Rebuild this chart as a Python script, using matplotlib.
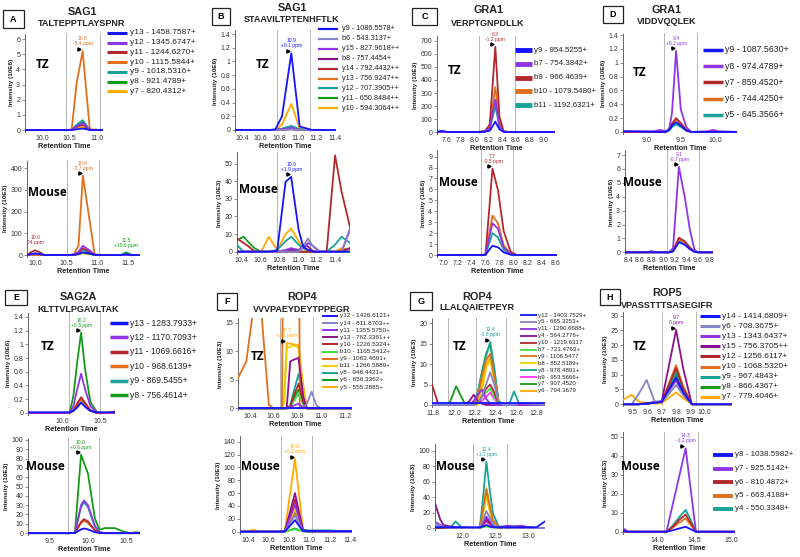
import matplotlib
matplotlib.use('Agg')
import matplotlib.pyplot as plt
from matplotlib.lines import Line2D
from matplotlib.patches import Rectangle
from matplotlib.transforms import offset_copy
import numpy as np

plt.rcParams['font.family'] = ['Liberation Sans', 'DejaVu Sans']
SANS = ['Liberation Sans', 'DejaVu Sans']

W, H = 800, 557
fig = plt.figure(figsize=(8, 5.57), dpi=100)

# ---------------- data ----------------
# A  SAG1 TALTEPPTLAYSPNR
a_ions = ['y13', 'y12', 'y11', 'y10', 'y9', 'y8', 'y7']
a_mz = ['1458.7587+', '1345.6747+', '1244.6270+', '1115.5844+', '1018.5316+', '921.4789+', '820.4312+']
a_tz_t = [9.69, 10.45, 10.54, 10.63, 10.74, 10.80, 10.87, 11.11]
a_tz = {
    'y13': [0, 0, 0, 0.05, 0.1, 0.06, 0, 0],
    'y12': [0, 0, 0.01, 0.25, 0.45, 0.25, 0.01, 0],
    'y11': [0, 0, 0.01, 0.2, 0.35, 0.2, 0.01, 0],
    'y10': [0, 0, 0.05, 3.1, 5.2, 2.8, 0.05, 0],
    'y9': [0, 0, 0.01, 0.35, 0.65, 0.35, 0.01, 0],
    'y8': [0, 0, 0.01, 0.3, 0.55, 0.3, 0.01, 0],
    'y7': [0, 0, 0, 0.1, 0.2, 0.1, 0, 0],
}
a_m_t = [9.87, 9.93, 10.0, 10.08, 10.15, 10.55, 10.63, 10.70, 10.77, 10.86, 10.96, 11.05, 11.38, 11.47, 11.56, 11.69]
a_m = {
    'y13': [0, 4, 8, 4, 0, 0, 1, 5, 12, 8, 1, 0, 0, 3, 0, 0],
    'y12': [0, 3, 6, 3, 0, 0, 2, 15, 42, 25, 2, 0, 0, 0, 0, 0],
    'y11': [0, 12, 22, 12, 0, 0, 1, 10, 30, 18, 1, 0, 0, 0, 0, 0],
    'y10': [0, 0, 0, 0, 0, 0, 5, 45, 365, 193, 2, 0, 0, 0, 0, 0],
    'y9': [0, 0, 0, 0, 0, 0, 1, 8, 25, 12, 0, 0, 0, 4, 0, 0],
    'y8': [0, 0, 0, 0, 0, 0, 0, 4, 12, 6, 0, 0, 0, 12, 0, 0],
    'y7': [0, 0, 0, 0, 0, 0, 0, 3, 8, 4, 0, 0, 0, 2, 0, 0],
}

# B  SAG1 STAAVILTPTENHFTLK
b_ions = ['y9', 'b6', 'y15', 'b8', 'y14', 'y13', 'y12', 'y11', 'y10']
b_mz = ['1086.5578+', '543.3137+', '827.9618++', '757.4454+', '792.4432++', '756.9247++', '707.3905++', '650.8484++', '594.3064++']
b_tz_t = [10.325, 10.7, 10.76, 10.83, 10.93, 11.02, 11.1, 11.15, 11.41]
b_tz = {
    'y9': [0, 0, 0.01, 0.2, 1.12, 0.05, 0.02, 0, 0],
    'b6': [0, 0, 0, 0, 0.01, 0, 0, 0, 0],
    'y15': [0, 0, 0, 0.01, 0.03, 0, 0, 0, 0],
    'b8': [0, 0, 0, 0, 0.01, 0, 0, 0, 0],
    'y14': [0, 0, 0, 0.005, 0.015, 0, 0, 0, 0],
    'y13': [0, 0, 0, 0.005, 0.02, 0, 0, 0, 0],
    'y12': [0, 0, 0, 0.02, 0.06, 0.01, 0, 0, 0],
    'y11': [0, 0, 0, 0.01, 0.045, 0.005, 0, 0, 0],
    'y10': [0, 0, 0, 0.08, 0.38, 0.02, 0, 0, 0],
}
b_m_t = [10.35, 10.42, 10.48, 10.54, 10.61, 10.69, 10.78, 10.87, 10.93, 11.01, 11.06, 11.11, 11.17, 11.24, 11.31, 11.40, 11.47, 11.56]
b_m = {
    'y9': [0, 0, 0, 0, 0, 0, 0.5, 39.6, 42.5, 12.3, 2.8, 1, 0, 0, 0, 0, 0, 0],
    'b6': [0, 0, 0, 0, 0, 0, 0, 0, 0, 0, 3, 7.5, 2.5, 0, 0, 0, 0, 12],
    'y15': [0, 0, 0, 0, 0, 0, 0, 1, 2, 1, 2, 5, 3, 0, 0, 0, 0, 13],
    'b8': [0, 0, 0, 0, 0, 0, 0, 0.5, 1, 0.5, 3.8, 3, 0, 0, 0, 0, 0, 2],
    'y14': [7.5, 5, 2.8, 0, 0, 0, 0, 0, 0, 0, 0, 0, 0, 0, 0, 54.7, 34, 14],
    'y13': [0, 0, 0, 0, 0, 0, 0, 0, 0.5, 0, 0, 0, 0, 0, 0, 0, 1, 2],
    'y12': [3.8, 0, 0, 0, 0, 0, 1, 6, 8.5, 4, 2, 1, 0, 0, 0, 4, 8.5, 5],
    'y11': [6.6, 8.5, 5, 1.9, 0, 0, 0, 0, 0, 0, 0, 0, 0, 0, 0, 0, 0, 0],
    'y10': [0, 0, 0, 0, 0, 8.5, 1, 10, 13.2, 6, 2, 0.5, 0, 0, 0, 0, 2, 1],
}

# C  GRA1 VERPTGNPDLLK
c_ions = ['y9', 'b7', 'b9', 'b10', 'b11']
c_mz = ['954.5255+', '754.3842+', '966.4639+', '1079.5480+', '1192.6321+']
c_tz_t = [7.455, 7.5, 7.55, 7.6, 8.05, 8.15, 8.22, 8.30, 8.36, 8.42, 8.5, 9.165]
c_tz = {
    'y9': [0, 8, 8, 0, 0, 3, 10, 80, 20, 2, 0, 0],
    'b7': [0, 0, 0, 0, 0, 5, 30, 250, 50, 3, 0, 0],
    'b9': [0, 0, 0, 0, 0, 5, 60, 655, 120, 5, 0, 0],
    'b10': [0, 0, 0, 0, 0, 8, 40, 345, 70, 5, 0, 0],
    'b11': [0, 0, 0, 0, 0, 4, 25, 200, 40, 3, 0, 0],
}
c_m_t = [6.905, 7.5, 7.6, 7.65, 7.7, 7.78, 7.86, 7.96, 8.05, 8.625]
c_m = {
    'y9': [0, 0, 0.01, 0.45, 0.85, 0.7, 0.25, 0.03, 0, 0],
    'b7': [0, 0, 0.02, 1.5, 2.9, 2.4, 0.7, 0.1, 0, 0],
    'b9': [0, 0, 0.05, 3.9, 7.9, 5.9, 2.2, 0.3, 0, 0],
    'b10': [0, 0, 0.03, 1.8, 3.6, 2.9, 0.9, 0.1, 0, 0],
    'b11': [0, 0, 0.02, 1.0, 2.0, 1.6, 0.5, 0.05, 0, 0],
}

# D  GRA1 VIDDVQQLEK
d_ions = ['y9', 'y8', 'y7', 'y6', 'y5']
d_mz = ['1087.5630+', '974.4789+', '859.4520+', '744.4250+', '645.3566+']
d_tz_t = [8.653, 9.1, 9.2, 9.28, 9.33, 9.37, 9.43, 9.50, 9.58, 9.65, 9.9, 9.97, 10.05, 10.322]
d_tz = {
    'y9': [0.01, 0, 0, 0, 0.03, 0.09, 0.14, 0.09, 0.02, 0, 0, 0, 0, 0],
    'y8': [0.01, 0.01, 0.03, 0.01, 0.05, 0.27, 1.17, 0.32, 0.07, 0, 0.01, 0.03, 0.01, 0],
    'y7': [0, 0, 0, 0, 0.04, 0.12, 0.2, 0.13, 0.03, 0, 0, 0, 0, 0],
    'y6': [0, 0, 0, 0, 0.03, 0.11, 0.18, 0.11, 0.02, 0, 0, 0, 0, 0],
    'y5': [0, 0, 0, 0, 0.02, 0.07, 0.11, 0.07, 0.02, 0, 0, 0, 0, 0],
}
d_m_t = [8.343, 8.75, 8.8, 8.85, 9.1, 9.17, 9.27, 9.37, 9.46, 9.54, 9.6, 9.857]
d_m = {
    'y9': [0, 0, 0, 0, 0, 0.06, 0.72, 0.55, 0.22, 0.03, 0, 0],
    'y8': [0, 0.02, 0.1, 0.02, 0, 0.3, 6.15, 4.0, 1.6, 0.17, 0, 0],
    'y7': [0, 0, 0, 0, 0, 0.1, 1.05, 0.8, 0.35, 0.05, 0, 0],
    'y6': [0, 0, 0, 0, 0, 0.08, 0.95, 0.7, 0.3, 0.04, 0, 0],
    'y5': [0, 0, 0, 0, 0, 0.07, 0.8, 0.6, 0.25, 0.03, 0, 0],
}

# E  SAG2A KLTTVLPGAVLTAK
e_ions = ['y13', 'y12', 'y11', 'y10', 'y9', 'y8']
e_mz = ['1283.7933+', '1170.7093+', '1069.6616+', '968.6139+', '869.5455+', '756.4614+']
e_tz_t = [9.56, 10.1, 10.15, 10.2, 10.25, 10.3, 10.37, 10.45, 10.55, 10.69]
e_tz = {
    'y13': [0.01, 0.01, 0.03, 0.08, 0.15, 0.09, 0.03, 0.01, 0.01, 0.01],
    'y12': [0, 0, 0.1, 0.35, 0.57, 0.35, 0.1, 0.01, 0, 0],
    'y11': [0, 0, 0.04, 0.14, 0.23, 0.15, 0.04, 0, 0, 0.02],
    'y10': [0, 0, 0.03, 0.12, 0.2, 0.13, 0.04, 0, 0, 0],
    'y9': [0, 0, 0.03, 0.1, 0.16, 0.1, 0.03, 0, 0, 0],
    'y8': [0, 0, 0.25, 0.75, 1.17, 0.65, 0.16, 0.02, 0, 0],
}
e_m_t = [9.217, 9.75, 9.83, 9.91, 9.95, 10.0, 10.09, 10.15, 10.22, 10.35, 10.46, 10.55, 10.63, 10.68]
e_m = {
    'y13': [0, 0, 0.1, 4, 5, 4, 1, 0.2, 0, 0, 0, 0, 0, 0],
    'y12': [0, 0, 0.3, 30, 35, 30, 8, 1, 0, 0, 0, 0, 0, 0],
    'y11': [0, 0, 0.2, 12, 15, 12.5, 3, 0.5, 0, 0, 0, 0, 0, 0],
    'y10': [0, 0, 0.2, 11, 13, 11, 3, 0.5, 0, 0, 0, 0, 0, 0],
    'y9': [0, 0, 0.3, 28, 33, 28, 7, 1, 0, 0, 0, 0, 0, 0],
    'y8': [0, 0, 0.5, 84, 75, 64, 16, 3.6, 5.4, 5.4, 1.8, 0, 1, 0.5],
}

# F  ROP4 VVVPAEYDEYTPPEGR
f_ions = ['y12', 'y14', 'y11', 'y13', 'y10', 'b10', 'y9', 'b11', 'y8', 'y6', 'y5']
f_mz = ['1426.6121+', '811.8703++', '1355.5750+', '762.3361++', '1226.5324+', '1165.5412+',
        '1063.4691+', '1266.5889+', '948.4421+', '656.3362+', '555.2885+']
f_tz_t = [10.30, 10.37, 10.42, 10.46, 10.50, 10.56, 10.60, 10.67, 10.69, 10.71,
          10.74, 10.77, 10.81, 10.82, 10.85, 10.88, 10.92, 10.96, 11.0, 11.26]
f_tz = {
    'y12': [0, 0, 0, 0, 0, 0, 0, 0, 0, 0, 0, 0, 0, 0, 0, 0, 0, 0, 0, 0],
    'y14': [0, 0, 0, 0, 0, 0, 0, 0, 0, 0, 0, 0, 0, 0, 0, 0.8, 2.9, 0.5, 0, 0],
    'y11': [0, 0, 0, 0, 0, 0, 0, 0, 0, 0, 0.2, 0.5, 0.8, 0.6, 0.2, 0, 0, 0, 0, 0],
    'y13': [0, 0, 0, 0, 0, 0, 0, 0, 0, 0, 8.2, 8.5, 8.8, 7, 2, 0, 0, 0, 0, 0],
    'y10': [0, 0, 0, 0, 0, 0, 0, 0, 0, 0, 0.3, 2.2, 4.3, 3.5, 1, 0, 0, 0, 0, 0],
    'b10': [0, 0, 0, 0, 0, 0, 0, 0, 0, 0, 0.2, 1.3, 2.5, 2, 0.6, 0, 0, 0, 0, 0],
    'y9': [5.3, 8.2, 16, 25, 16, 0.6, 0, 0, 60, 60, 60, 60, 60, 0, 0, 0, 0, 0, 0, 0],
    'b11': [0, 0, 0, 0, 0, 0, 0, 0, 1, 10.5, 10.8, 11.0, 10.6, 8, 3, 0, 0, 0, 0, 0],
    'y8': [0, 0, 0, 0, 0, 0, 0, 0, 0, 0, 0.5, 3, 6, 5, 1.5, 0, 0, 0, 0, 0],
    'y6': [0, 0, 0, 0, 0, 0, 0, 0, 0, 0, 0.2, 1.7, 3.3, 2.7, 0.8, 0, 0, 0, 0, 0],
    'y5': [0, 0, 0, 0, 0, 0, 0, 0, 2, 11.4, 11.3, 11.2, 11.0, 9, 4, 0, 0, 0, 0, 0],
}
f_m_t = [10.32, 10.4, 10.45, 10.5, 10.7, 10.76, 10.81, 10.86, 10.90, 10.94, 11.0, 11.1, 11.2, 11.3, 11.42]
f_m = {
    'y12': [0, 0, 0, 0, 0, 0.5, 9, 18, 9, 1, 1, 1, 1, 1, 1],
    'y14': [0, 0, 0, 0, 0, 0.5, 13, 25, 13, 1, 0.5, 0, 0, 0, 0],
    'y11': [0, 0, 0, 0, 0, 0.5, 21, 42, 21, 1, 0.5, 0, 0, 0, 0],
    'y13': [0, 0, 0, 0, 0, 0.5, 30, 60, 30, 2, 0.5, 0, 0, 0, 0],
    'y10': [0, 0, 0, 0, 0, 0.5, 25, 50, 25, 2, 0.5, 0, 0, 0, 0],
    'b10': [0, 0, 0, 0, 0, 0, 2, 4, 2, 0.5, 0, 0, 0, 0, 0],
    'y9': [0, 0, 0, 0, 0, 0.5, 14, 28, 14, 1, 0.5, 0, 0, 0, 0],
    'b11': [0, 0, 1, 0, 0, 0.5, 18, 35, 18, 1, 0.5, 0, 0, 0, 0],
    'y8': [0, 0, 0, 0, 0, 0.5, 15, 30, 16, 3, 2, 2, 2, 1, 1],
    'y6': [0, 0, 0, 0, 0, 0, 2.5, 5, 2.5, 0.5, 0, 0, 0, 0, 0],
    'y5': [0, 1, 3, 1, 0, 1, 57, 113, 57, 2, 0, 0, 0, 0, 0],
}

# G  ROP4 LLALQAIETPEYR
g_ions = ['y12', 'y5', 'y11', 'y4', 'y10', 'b7', 'y9', 'b8', 'y8', 'b9', 'y7', 'y6']
g_mz = ['1403.7529+', '665.3253+', '1290.6688+', '564.2776+', '1219.6317', '723.4763+',
        '1106.5477', '852.5189+', '978.4891+', '953.5666+', '907.4520', '794.3679']
g_tz_t = [11.787, 11.85, 11.95, 12.02, 12.11, 12.15, 12.19, 12.23, 12.27, 12.31,
          12.35, 12.39, 12.43, 12.48, 12.53, 12.58, 12.63, 12.88]
g_tz = {
    'y12': [0.4, 0.4, 0.4, 0.4, 0.4, 0.4, 0.4, 0.4, 0.4, 0.4, 0.4, 0.4, 0.4, 0.4, 0.4, 0.4, 0.4, 0.4],
    'y5': [0, 0, 0, 0, 0, 0, 0, 0.5, 2, 5, 8, 5, 0.5, 0, 0, 0, 0.5, 0],
    'y11': [0, 0, 0, 0, 0, 0, 1, 2.5, 3.8, 1.5, 0.3, 0, 0, 0, 0, 0, 0, 0],
    'y4': [0, 0, 0, 0, 0, 1, 2.5, 1, 0.3, 0, 0, 0, 0, 0, 0, 0, 0, 0],
    'y10': [5, 0, 0, 0, 0, 0, 0, 0.5, 2, 4, 5, 3, 0.3, 0, 0, 0, 0, 0],
    'b7': [0, 0, 0, 0, 0, 0, 0, 0.5, 2, 3, 4, 2, 0.2, 0, 0, 0, 0, 0],
    'y9': [0, 0, 0, 0, 0, 0, 0, 2, 7, 11, 12.5, 7, 0.8, 0, 0, 0, 0, 0],
    'b8': [0, 0, 0, 0, 0, 0, 0, 0, 3, 9, 11, 6, 0.5, 0, 0, 0, 0, 0],
    'y8': [0, 0, 0, 0, 0, 0, 0.5, 3, 8, 12, 15.4, 9, 1, 0, 0, 3.3, 0.3, 0],
    'b9': [0, 0, 0, 0, 0, 0, 0, 0.5, 1, 2, 3, 1.5, 0.2, 0, 0, 0, 0, 0],
    'y7': [0, 0, 0, 4.6, 0, 0, 0.5, 3, 8, 12.5, 15, 8, 1, 0, 0, 0, 0, 0],
    'y6': [0, 0, 0, 0, 0, 0, 0, 1, 5, 10, 11.5, 6, 0.5, 0, 0, 0, 0, 0],
}
g_m_t = [11.59, 11.67, 11.72, 11.82, 11.9, 12.0, 12.17, 12.27, 12.32, 12.37,
         12.42, 12.47, 12.55, 12.62, 12.7, 12.8, 12.9, 13.0, 13.13, 13.26]
g_m = {
    'y12': [1, 1, 1, 1, 1, 1, 1, 1, 2, 4, 2, 1, 1, 1, 1, 1, 1, 1, 1, 8.6],
    'y5': [5, 3, 1, 0, 0, 0, 0, 0.2, 10, 22, 14, 5, 1, 0, 0, 0, 0, 0, 0, 0],
    'y11': [8, 4, 2, 1, 1, 0.5, 0, 0.2, 7, 15, 9, 3, 1, 2, 3, 2, 3, 1, 0, 0],
    'y4': [32, 10.7, 4, 2, 1, 0.5, 0, 0.1, 6, 12, 7, 3, 1, 1, 2, 1, 2, 1, 0, 0],
    'y10': [0, 0, 0, 0, 0, 0, 0, 0.1, 5, 10, 6, 2, 0.5, 0, 0, 0, 0, 0, 0, 0],
    'b7': [0, 0, 0, 0, 0, 0, 0, 0, 1, 2, 1, 0.5, 0, 0, 0, 0, 0, 0, 0, 0],
    'y9': [0, 0, 0, 0, 0, 0, 0, 0.5, 24, 50, 29, 10, 2, 0, 0, 0, 0, 0, 0, 0],
    'b8': [0, 0, 0, 0, 0, 0, 0, 0.3, 18, 40, 22, 7, 1, 0, 0, 0, 0, 0, 0, 0],
    'y8': [2, 2, 0, 0, 8.6, 0.5, 0, 0.5, 40, 86, 50, 19, 3, 1, 1, 2, 1, 0, 0, 0],
    'b9': [0, 0, 0, 0, 0, 0, 0, 0, 4, 8, 5, 2, 0.3, 0, 0, 0, 0, 0, 0, 0],
    'y7': [0, 0, 0, 0, 0, 0, 0, 0.3, 20, 45, 25, 8, 1, 0, 0, 0, 0, 0, 0, 0],
    'y6': [0, 0, 0, 0, 0, 0, 0, 0.5, 25, 52, 30, 10, 2, 0, 0, 0, 0, 0, 0, 0],
}

# H  ROP5 VPASSTTTSASEGIFR
h_ions = ['y14', 'y6', 'y13', 'y15', 'y12', 'y10', 'y9', 'y8', 'y7']
h_mz = ['1414.6809+', '708.3675+', '1343.6437+', '756.3705++', '1256.6117+', '1068.5320+',
        '967.4843+', '866.4367+', '779.4046+']
h_tz_t = [9.43, 9.49, 9.54, 9.595, 9.65, 9.7, 9.75, 9.8, 9.85, 9.91, 10.0, 10.19]
h_tz = {
    'y14': [0, 0, 0, 0.2, 0.5, 0.8, 5, 9, 4, 0, 0, 0],
    'y6': [0, 0, 3.5, 8.2, 1, 0.5, 3.5, 6.5, 3, 0, 0, 0],
    'y13': [0, 0, 0, 0.2, 0.6, 1, 4.5, 8, 3.5, 0, 0, 0],
    'y15': [0, 0, 0, 0.3, 0.8, 1, 13, 25.1, 12, 0, 0, 0],
    'y12': [0, 0, 0, 0.2, 0.5, 0.8, 6.5, 12.2, 5.5, 0, 0, 0],
    'y10': [0, 0, 0, 0.2, 0.5, 0.8, 7, 13.2, 6, 0, 0, 0],
    'y9': [0, 0, 0, 0.2, 0.5, 0.8, 6, 11, 5, 0, 0, 0],
    'y8': [0, 0, 0, 0.2, 0.5, 0.8, 5.5, 10, 4.5, 0, 0, 0],
    'y7': [1.5, 3.2, 0.9, 0.3, 0.2, 0.3, 2.2, 4, 2, 0, 0, 0],
}
hm_ions = ['y8', 'y7', 'y6', 'y5', 'y4']
hm_mz = ['1038.5982+', '925.5142+', '810.4872+', '663.4188+', '550.3348+']
h_m_t = [13.53, 13.6, 14.12, 14.2, 14.3, 14.38, 14.45, 14.52, 14.6, 15.05]
h_m = {
    'y8': [0.5, 0, 0, 0.7, 1.8, 2.6, 1.3, 0, 0, 0],
    'y7': [1.8, 0, 0, 13.5, 30.4, 43.9, 22, 0, 0, 0],
    'y6': [0, 0, 0, 2.5, 6.5, 9, 4.5, 0, 0, 0],
    'y5': [0, 0, 0, 2, 5, 7, 3.5, 0, 0, 0],
    'y4': [0, 0, 0, 3, 8, 11.5, 6, 0, 0, 0],
}

# ---------------- styles ----------------
C = {'blue': '#1414ff', 'violet': '#9035e6', 'brown': '#b3282c', 'choc': '#e0701e',
     'cyan': '#17a398', 'green': '#169a1a', 'orange': '#ffab00', 'slate': '#8585c8',
     'dmag': '#8c108c', 'lime': '#44dd44', 'gold': '#eed000', 'mag': '#ff33ff'}
a_col = [C[k] for k in ['blue', 'violet', 'brown', 'choc', 'cyan', 'green', 'orange']]
b_col = [C[k] for k in ['blue', 'slate', 'violet', 'dmag', 'brown', 'choc', 'cyan', 'green', 'orange']]
c_col = [C[k] for k in ['blue', 'violet', 'brown', 'choc', 'cyan']]
d_col = c_col
e_col = [C[k] for k in ['blue', 'violet', 'brown', 'choc', 'cyan', 'green']]
f_col = [C[k] for k in ['blue', 'slate', 'violet', 'dmag', 'brown', 'lime', 'choc', 'gold', 'cyan', 'green', 'orange']]
g_col = [C[k] for k in ['blue', 'slate', 'violet', 'dmag', 'brown', 'lime', 'choc', 'gold', 'cyan', 'mag', 'green', 'orange']]
h_col = [C[k] for k in ['blue', 'slate', 'violet', 'dmag', 'brown', 'choc', 'cyan', 'green', 'orange']]
hm_col = c_col


def fx(x):
    return x / W


def fy(y):
    return 1 - y / H


def chrom(t, ser, ions, cols, rect, xlim, ylim, xt, yt, unit, bounds, tag, tagxy, anns):
    l, tp, r, b = rect
    ax = fig.add_axes([fx(l), fy(b), (r - l) / W, (b - tp) / H])
    for bd in bounds:
        ax.axvline(bd, color='#a9a9a9', lw=0.6, zorder=1)
    n = len(ions)
    for k in range(n - 1, -1, -1):
        assert len(ser[ions[k]]) == len(t)
        ax.plot(t, ser[ions[k]], color=cols[k], lw=1.3, zorder=2 + n - k)
    ax.set_xlim(xlim)
    ax.set_ylim(ylim)
    ax.set_xticks(xt)
    ax.set_xticklabels(['%.1f' % v for v in xt])
    ax.set_yticks(yt)
    ax.set_yticklabels(['%g' % v for v in yt])
    for s in ['top', 'right', 'bottom']:
        ax.spines[s].set_visible(False)
    ax.spines['left'].set_linestyle((0, (1, 1)))
    ax.spines['left'].set_color('#666666')
    ax.spines['left'].set_linewidth(0.7)
    ax.tick_params(axis='x', length=0, pad=2, labelsize=5, labelcolor='#333333')
    ax.tick_params(axis='y', length=2, width=0.5, pad=1.5, labelsize=5, labelcolor='#333333', color='#666666')
    ax.set_xlabel('Retention Time', fontsize=5.2, fontweight='bold', labelpad=1, color='#222222')
    ax.set_ylabel('Intensity (%s)' % unit, fontsize=4.6, fontweight='bold', labelpad=1.5, color='#222222')
    ax.patch.set_alpha(0)
    fig.text(fx(tagxy[0]), fy(tagxy[1]), tag, fontsize=8.5, fontweight='bold',
             ha='center', va='center', family=['Open Sans', 'DejaVu Sans'])
    tt = np.array(t)
    for ion, lo, hi, txt, arrow in anns:
        vv = np.array(ser[ion], dtype=float)
        i = int(np.argmax(np.where((tt >= lo) & (tt <= hi), vv, -1e9)))
        c = cols[ions.index(ion)]
        ax.annotate(txt, (tt[i], vv[i]), xytext=(0, 3.5), textcoords='offset points',
                    ha='center', va='bottom', fontsize=3.6, color=c, linespacing=1.0,
                    annotation_clip=False, zorder=30)
        if arrow:
            tr = offset_copy(ax.transData, fig=fig, x=-2.3, y=1.8, units='points')
            ax.plot([tt[i]], [vv[i]], marker='>', ms=2.3, color='k', transform=tr,
                    clip_on=False, zorder=31)
    return ax


def legend(y0, step, x0, x1, xt, ions, mz, cols, fs, lw):
    for k, (ion, m, c) in enumerate(zip(ions, mz, cols)):
        y = y0 + k * step
        fig.add_artist(Line2D([fx(x0), fx(x1)], [fy(y), fy(y)], color=c, lw=lw,
                              solid_capstyle='butt', transform=fig.transFigure))
        fig.text(fx(xt), fy(y), '%s - %s' % (ion, m), fontsize=fs, va='center', ha='left',
                 color='#222222', family=SANS)


def header(box, letter, cx, y1, y2, name, pep):
    l, t, r, b = box
    fig.add_artist(Rectangle((fx(l), fy(b)), (r - l) / W, (b - t) / H, fill=False,
                             ec='#222222', lw=0.9, transform=fig.transFigure))
    fig.text(fx((l + r) / 2), fy((t + b) / 2), letter, fontsize=6.5, fontweight='bold',
             ha='center', va='center')
    fig.text(fx(cx), fy(y1), name, fontsize=7.8, fontweight='bold', ha='center', va='center',
             color='#222222')
    fig.text(fx(cx), fy(y2), pep, fontsize=6.5, fontweight='bold', ha='center', va='center',
             color='#222222')


# ---------------- A ----------------
header((3, 10, 24, 28), 'A', 82, 12, 24, 'SAG1', 'TALTEPPTLAYSPNR')
chrom(a_tz_t, a_tz, a_ions, a_col, (25, 33, 103, 132), (9.69, 11.11), (-0.13, 6.4),
      [10.0, 10.5, 11.0], [0, 1, 2, 3, 4, 5, 6], '10E6', [10.44, 11.05], 'TZ', (43, 65),
      [('y10', 0, 99, '10.8\n-5.4 ppm', True)])
chrom(a_m_t, a_m, a_ions, a_col, (27, 160, 140, 257), (9.87, 11.69), (-9.2, 437),
      [10.0, 10.5, 11.0, 11.5], [0, 100, 200, 300, 400], '10E3', [10.52, 11.03], 'Mouse', (47, 192),
      [('y10', 10.5, 11.0, '10.8\n-3.7 ppm', True), ('y11', 9.9, 10.1, '10.0\n24 ppm', False),
       ('y8', 11.3, 11.6, '11.5\n+10.6 ppm', False)])
legend(33, 9.7, 107, 127, 130, a_ions, a_mz, a_col, 6, 2.2)

# ---------------- B ----------------
header((212, 8, 230, 25), 'B', 292, 8, 20, 'SAG1', 'STAAVILTPTENHFTLK')
chrom(b_tz_t, b_tz, b_ions, b_col, (235, 30, 336, 132), (10.325, 11.41), (-0.03, 1.46),
      [10.4, 10.6, 10.8, 11.0, 11.2, 11.4], [0, 0.2, 0.4, 0.6, 0.8, 1.0, 1.2, 1.4], '10E6',
      [10.78, 11.13], 'TZ', (263, 65), [('y9', 0, 99, '10.9\n+0.1 ppm', True)])
chrom(b_m_t, b_m, b_ions, b_col, (237, 152, 350, 254), (10.35, 11.56), (-1.3, 56.6),
      [10.4, 10.6, 10.8, 11.0, 11.2, 11.4], [0, 10, 20, 30, 40, 50], '10E3',
      [10.78, 11.13], 'Mouse', (258, 190), [('y9', 10.7, 11.1, '10.9\n+1.9 ppm', True)])
legend(29, 9.9, 318, 338, 342, b_ions, b_mz, b_col, 5.2, 1.6)

# ---------------- C ----------------
header((412, 8, 437, 25), 'C', 488, 10, 23, 'GRA1', 'VERPTGNPDLLK')
chrom(c_tz_t, c_tz, c_ions, c_col, (437, 36, 555, 134), (7.455, 9.165), (-15, 738),
      [7.6, 7.8, 8.0, 8.2, 8.4, 8.6, 8.8, 9.0], [0, 100, 200, 300, 400, 500, 600, 700], '10E3',
      [8.06, 8.58], 'TZ', (455, 70), [('b9', 0, 99, '8.3\n-1.2 ppm', True)])
chrom(c_m_t, c_m, c_ions, c_col, (437, 150, 557, 257), (6.905, 8.625), (-0.18, 9.6),
      [7.0, 7.2, 7.4, 7.6, 7.8, 8.0, 8.2, 8.4, 8.6], [0, 1, 2, 3, 4, 5, 6, 7, 8, 9], '10E6',
      [7.53, 8.0], 'Mouse', (458, 183), [('b9', 0, 99, '7.7\n-0.5 ppm', True)])
legend(50, 13.8, 515, 532, 534, c_ions, c_mz, c_col, 5.7, 3.5)

# ---------------- D ----------------
header((603, 6, 623, 23), 'D', 667, 10, 22, 'GRA1', 'VIDDVQQLEK')
chrom(d_tz_t, d_tz, d_ions, d_col, (623, 33, 737, 134), (8.653, 10.322), (-0.03, 1.43),
      [9.0, 9.5, 10.0], [0, 0.2, 0.4, 0.6, 0.8, 1.0, 1.2, 1.4], '10E6',
      [9.26, 9.73], 'TZ', (640, 72), [('y8', 9.3, 9.6, '9.4\n+0.2 ppm', True)])
chrom(d_m_t, d_m, d_ions, d_col, (625, 150, 713, 254), (8.343, 9.857), (-0.12, 7.36),
      [8.4, 8.6, 8.8, 9.0, 9.2, 9.4, 9.6, 9.8], [0, 1, 2, 3, 4, 5, 6, 7], '10E6',
      [9.06, 9.62], 'Mouse', (642, 182), [('y8', 0, 99, '9.1\n-0.7 ppm', True)])
legend(50, 16.2, 703, 723, 725, d_ions, d_mz, d_col, 6.3, 2.5)

# ---------------- E ----------------
header((5, 290, 27, 305), 'E', 78, 297, 310, 'SAG2A', 'KLTTVLPGAVLTAK')
chrom(e_tz_t, e_tz, e_ions, e_col, (28, 312, 115, 415), (9.56, 10.69), (-0.03, 1.47),
      [10.0, 10.5], [0, 0.2, 0.4, 0.6, 0.8, 1.0, 1.2, 1.4], '10E6',
      [10.09, 10.5], 'TZ', (48, 347), [('y8', 0, 99, '10.2\n+0.3 ppm', True)])
chrom(e_m_t, e_m, e_ions, e_col, (28, 438, 140, 535), (9.217, 10.68), (-2, 102),
      [9.5, 10.0, 10.5], [0, 10, 20, 30, 40, 50, 60, 70, 80, 90, 100], '10E3',
      [9.74, 10.15], 'Mouse', (45, 467), [('y8', 0, 99, '10.0\n+0.6 ppm', True)])
legend(323, 14.4, 110, 128, 130, e_ions, e_mz, e_col, 6.2, 2.5)

# ---------------- F ----------------
header((217, 293, 237, 310), 'F', 302, 297, 309, 'ROP4', 'VVVPAEYDEYTPPEGR')
chrom(f_tz_t, f_tz, f_ions, f_col, (238, 318, 352, 410), (10.30, 11.26), (-0.3, 15.8),
      [10.4, 10.6, 10.8, 11.0, 11.2], [0, 5, 10, 15], '10E3',
      [10.65, 10.93], 'TZ', (258, 357), [('y5', 0, 99, '10.7\n+2.2 ppm', True)])
chrom(f_m_t, f_m, f_ions, f_col, (240, 436, 352, 534), (10.32, 11.42), (-3.6, 148.8),
      [10.4, 10.6, 10.8, 11.0, 11.2, 11.4], [0, 20, 40, 60, 80, 100, 120, 140], '10E3',
      [10.72, 11.03], 'Mouse', (260, 467), [('y5', 10.6, 11.0, '10.9\n+0.1 ppm', True)])
legend(316, 7.1, 322, 338, 340, f_ions, f_mz, f_col, 4.6, 1.4)

# ---------------- G ----------------
header((410, 292, 432, 310), 'G', 477, 297, 308, 'ROP4', 'LLALQAIETPEYR')
chrom(g_tz_t, g_tz, g_ions, g_col, (432, 318, 545, 407), (11.787, 12.88), (-0.5, 21.3),
      [11.8, 12.0, 12.2, 12.4, 12.6, 12.8], [0, 5, 10, 15, 20], '10E3',
      [11.94, 12.21, 12.50], 'TZ', (460, 347), [('y8', 12.2, 12.5, '12.4\n-3.8 ppm', True)])
chrom(g_m_t, g_m, g_ions, g_col, (435, 444, 545, 530), (11.59, 13.26), (-2.6, 109),
      [12.0, 12.5, 13.0], [0, 20, 40, 60, 80, 100], '10E3',
      [12.17, 12.68], 'Mouse', (455, 467), [('y8', 12.2, 12.5, '12.4\n+1.2 ppm', True)])
legend(315, 6.9, 520, 537, 538, g_ions, g_mz, g_col, 4.4, 1.3)

# ---------------- H ----------------
header((600, 289, 620, 305), 'H', 667, 293, 305, 'ROP5', 'VPASSTTTSASEGIFR')
chrom(h_tz_t, h_tz, h_ions, h_col, (623, 312, 732, 406), (9.43, 10.19), (-0.6, 31.2),
      [9.5, 9.6, 9.7, 9.8, 9.9, 10.0], [0, 5, 10, 15, 20, 25, 30], '10E3',
      [9.70, 9.94], 'TZ', (640, 347), [('y15', 0, 99, '9.7\n0 ppm', True)])
chrom(h_m_t, h_m, hm_ions, hm_col, (623, 432, 735, 534), (13.53, 15.05), (-1.2, 52.5),
      [14.0, 14.5, 15.0], [0, 10, 20, 30, 40, 50], '10E3',
      [14.09, 14.55], 'Mouse', (640, 467), [('y7', 0, 99, '14.3\n-1.2 ppm', True)])
legend(316, 10.1, 700, 720, 722, h_ions, h_mz, h_col, 6.0, 2.2)
legend(455, 13.5, 713, 733, 735, hm_ions, hm_mz, hm_col, 5.8, 2.8)

fig.savefig('out.png', dpi=100)
